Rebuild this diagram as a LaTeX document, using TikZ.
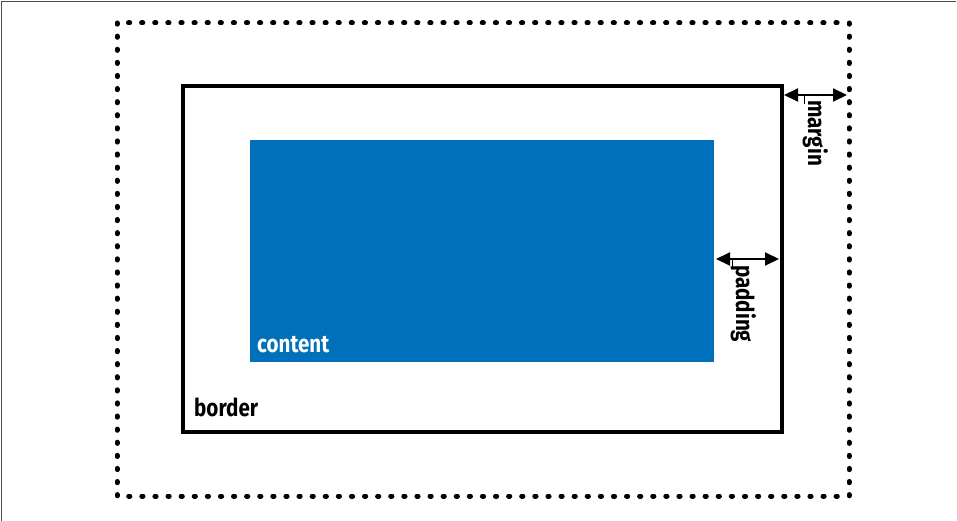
\documentclass[tikz,border=0pt]{standalone}
\usepackage{fontspec}
\newfontfamily\boxfont{Fira Sans}[FakeStretch=0.84]
\usetikzlibrary{arrows.meta}
\definecolor{contentblue}{HTML}{0070BA}
\tikzset{
	dotline/.style={line width=5pt, line cap=round, dash pattern=on 1.2pt off 11.9pt},
	boxline/.style={line width=4pt},
	measure/.style={line width=2pt, {Triangle[length=14pt, width=13pt]}-{Triangle[length=14pt, width=13pt]}},
	boxlabel/.style={font=\boxfont\bfseries\fontsize{24.5}{24.5}\selectfont, inner sep=0pt}
}
\begin{document}
\begin{tikzpicture}[x=1pt, y=-1pt]
	\useasboundingbox (0,0) rectangle (957,521);
	\draw[black!70, line width=1.5pt] (956,1.5) -- (1.5,1.5) -- (1.5,521);
	% margin, border and content boxes
	\draw[dotline] (117,23) rectangle (849,496);
	\draw[boxline] (183,86) rectangle (782,432);
	\fill[contentblue] (250,140) rectangle (714,362);
	\node[boxlabel, white, anchor=base west] (content) at (257,352) {content};
	\node[boxlabel, anchor=base west] (border) at (194,416) {border};
	% measures
	\coordinate (m1) at (784,95);
	\coordinate (m2) at (847,95);
	\draw[measure] (m1) -- (m2);
	\draw[line width=1pt] (804,95) -- (804,104);
	\node[boxlabel, rotate=-90, anchor=base west] (margin) at (808,100) {margin};
	\coordinate (p1) at (716,259);
	\coordinate (p2) at (779,259);
	\draw[measure] (p1) -- (p2);
	\draw[line width=1pt] (732,259) -- (732,268);
	\node[boxlabel, rotate=-90, anchor=base west] (padding) at (736,265) {padding};
\end{tikzpicture}
\end{document}
